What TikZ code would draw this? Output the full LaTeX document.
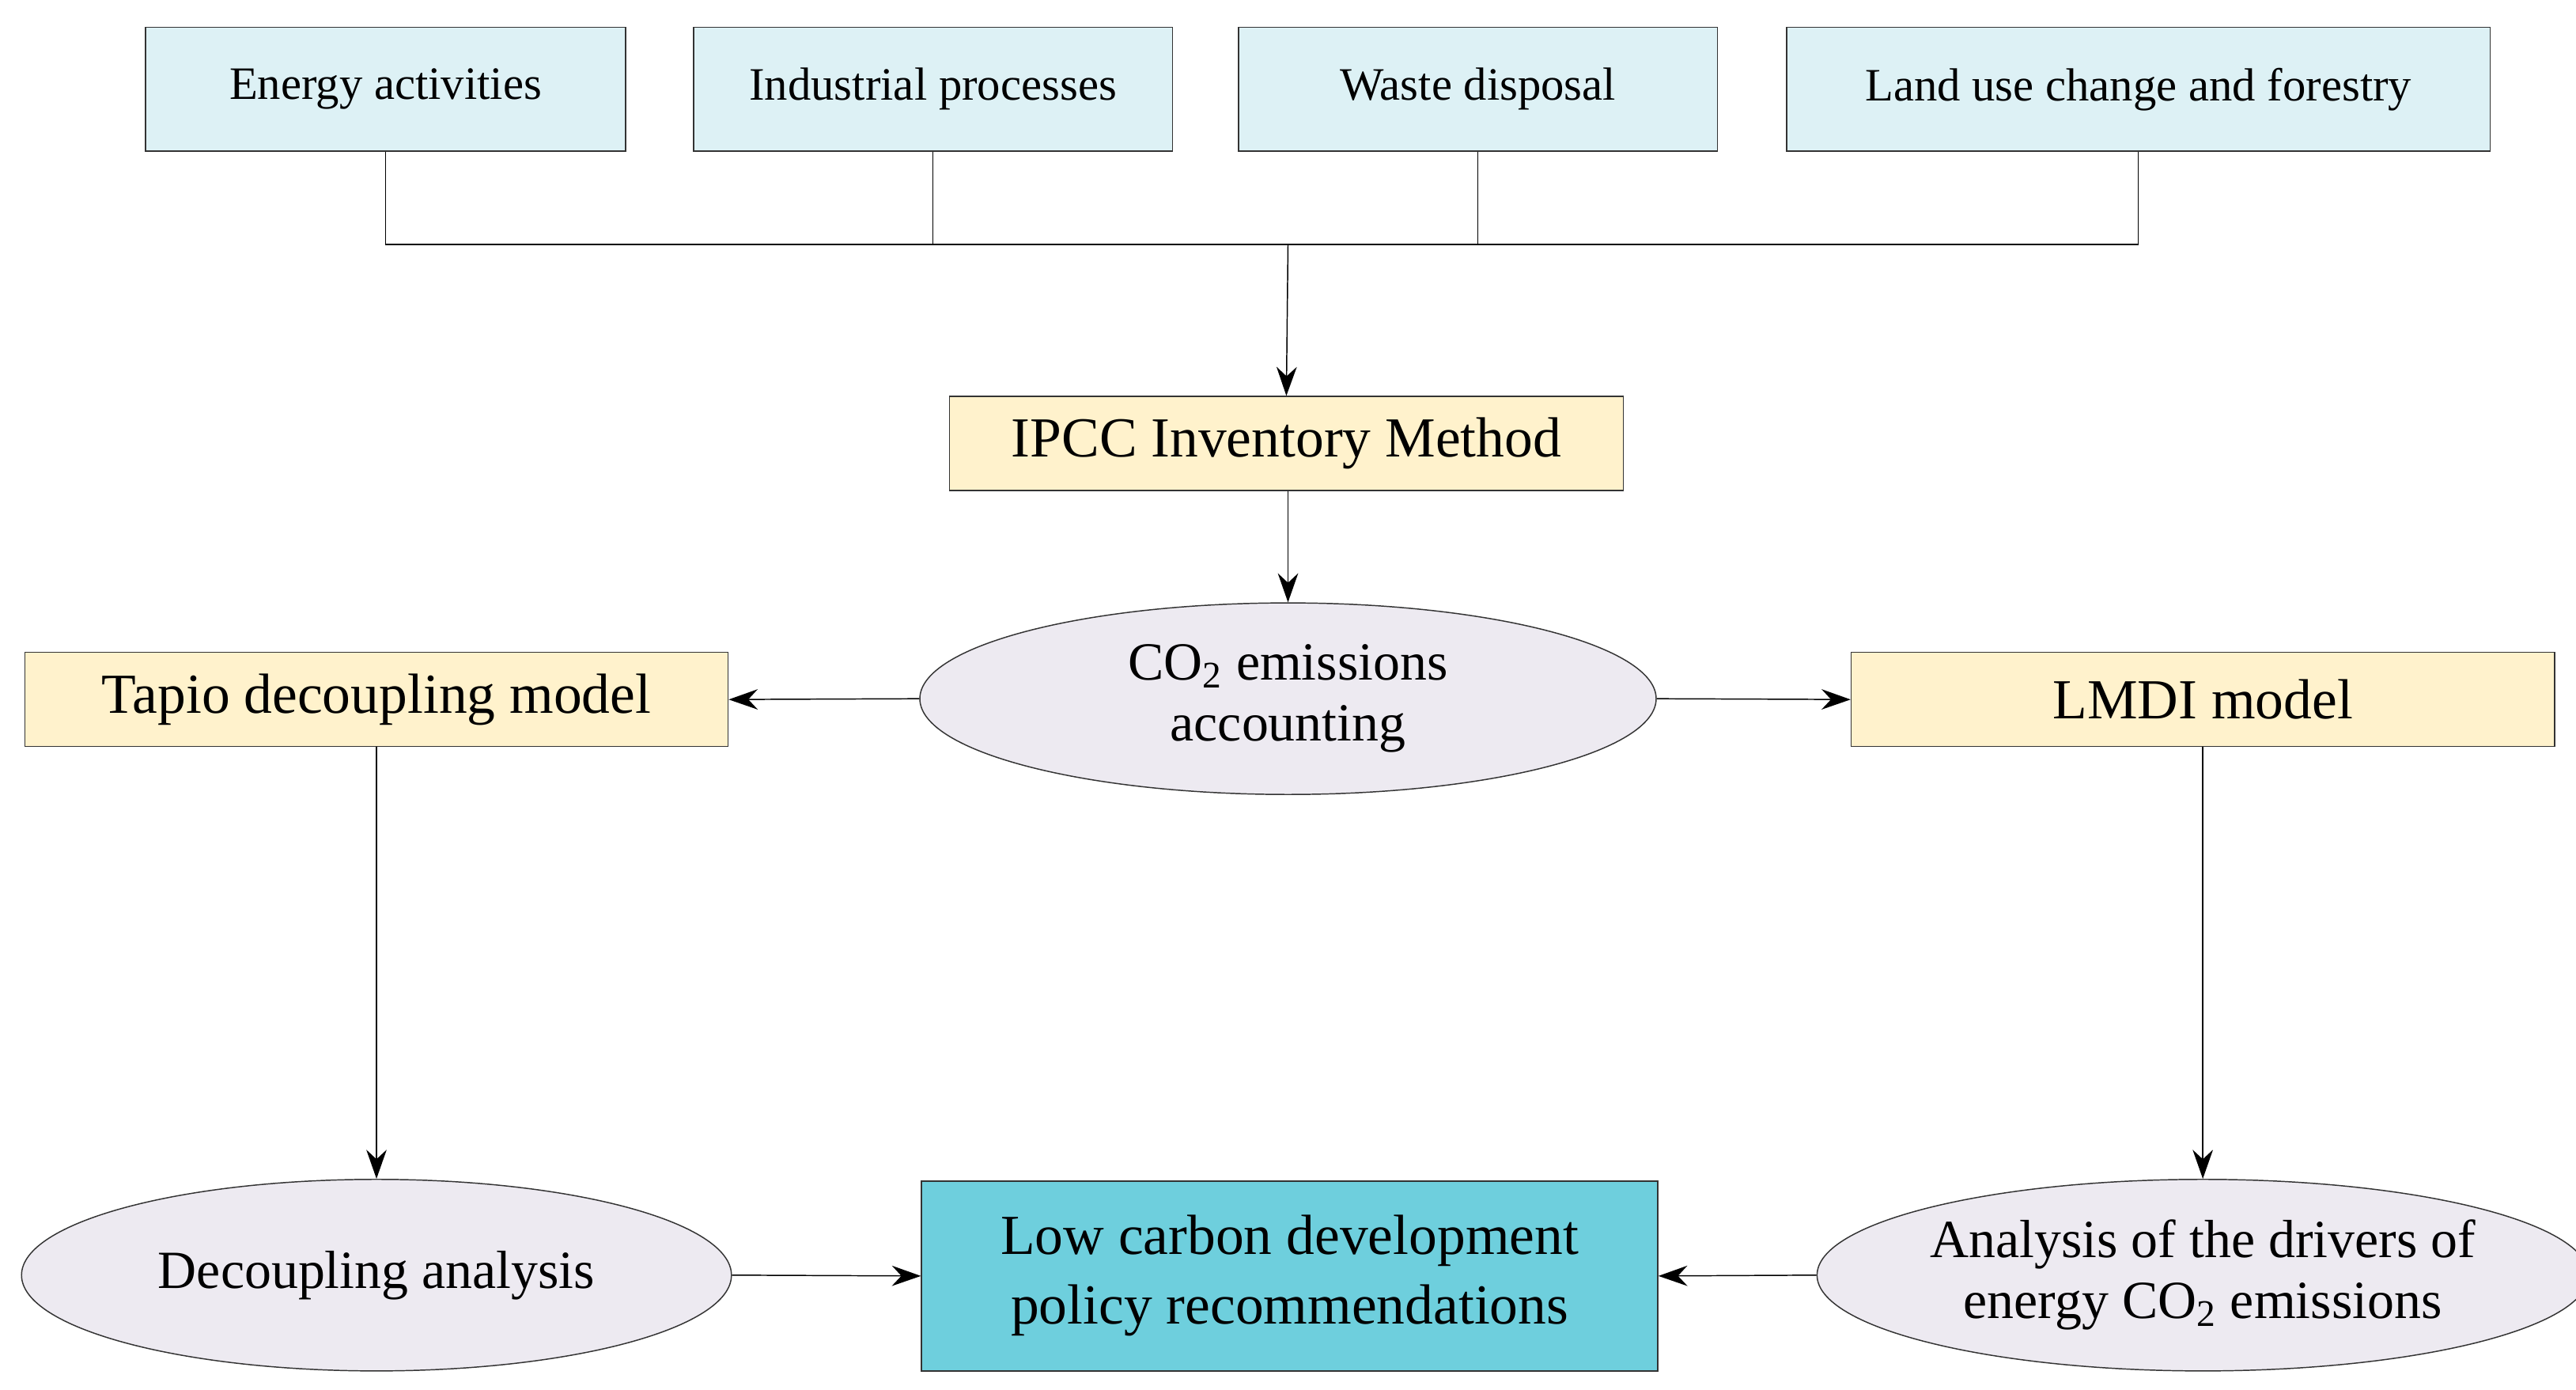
\documentclass[tikz,border=0pt]{standalone}
\usepackage{fontspec}
\setmainfont{Liberation Serif}
\usetikzlibrary{shapes.geometric, arrows.meta}
\definecolor{srcblue}{HTML}{DDF1F5}
\definecolor{methyellow}{HTML}{FFF2CC}
\definecolor{ovallilac}{HTML}{EDEAF1}
\definecolor{resultteal}{HTML}{6ECFDD}
\tikzstyle{source} = [rectangle, draw=black!80, fill=srcblue, minimum height=1.5cm, text centered, font=\fontsize{16}{19}\selectfont, inner sep=0pt]
\tikzstyle{method} = [rectangle, draw=black!80, fill=methyellow, minimum height=1.14cm, text centered, font=\fontsize{19.5}{23}\selectfont, inner sep=0pt]
\tikzstyle{oval} = [ellipse, draw=black!80, fill=ovallilac, minimum width=8.6cm, minimum height=2.32cm, inner sep=0pt, align=center, font=\fontsize{18.5}{21}\selectfont]
\tikzstyle{arrow} = [->, >={Stealth[length=10pt,width=7pt]}]

\begin{document}
\begin{tikzpicture}[x=0.02cm, y=-0.02cm]
\useasboundingbox (0,0) rectangle (1560,841.5);

% Nodes
\node (energy) [source, minimum width=5.82cm] at (233.5,54) {Energy activities};
\node (industry) [source, minimum width=5.8cm] at (565,54) {Industrial processes};
\node (waste) [source, minimum width=5.8cm] at (895,54) {Waste disposal};
\node (land) [source, minimum width=8.52cm] at (1295,54) {Land use change and forestry};
\coordinate (join) at (780,148);
\node (ipcc) [method, minimum width=8.16cm] at (779,268.5) {IPCC Inventory Method};
\node (co2) [oval, minimum width=8.92cm] at (780,423) {CO\textsubscript{2} emissions\\accounting};
\node (tapio) [method, minimum width=8.52cm] at (228,423.5) {Tapio decoupling model};
\node (lmdi) [method, minimum width=8.52cm] at (1334,423.5) {LMDI model};
\node (decoup) [oval] at (228,772) {Decoupling analysis};
\node (drivers) [oval] at (1334,772) {Analysis of the drivers of\\energy CO\textsubscript{2} emissions};
\node (policy) [rectangle, draw=black!80, fill=resultteal, minimum width=8.92cm, minimum height=2.3cm, align=center, inner sep=0pt, font=\fontsize{19.5}{24}\selectfont] at (781,772.5) {Low carbon development\\policy recommendations};

% Arrows
\draw (energy.south) |- (join);
\draw (industry.south) |- (join);
\draw (waste.south) |- (join);
\draw (land.south) |- (join);
\draw [arrow] (join) -- (ipcc.north);
\draw [arrow] (ipcc.south -| co2.north) -- (co2.north);
\draw [arrow] (co2.west) -- (tapio.east);
\draw [arrow] (co2.east) -- (lmdi.west);
\draw [arrow] (tapio.south) -- (decoup.north);
\draw [arrow] (lmdi.south) -- (drivers.north);
\draw [arrow] (decoup.east) -- (policy.west);
\draw [arrow] (drivers.west) -- (policy.east);

\end{tikzpicture}
\end{document}
